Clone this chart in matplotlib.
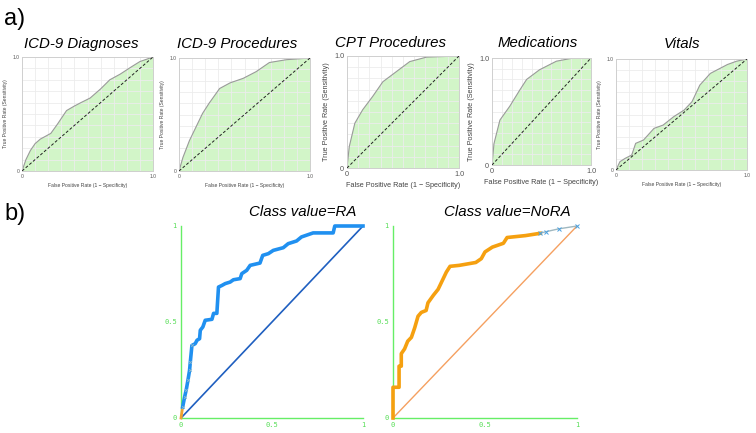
import matplotlib.pyplot as plt
import numpy as np

# ---- panel a) ROC curves (read from picture) ----
titles_a = ['ICD-9 Diagnoses', 'ICD-9 Procedures', 'CPT Procedures', 'Medications', 'Vitals']

diag_fpr = [0, 0.03, 0.064, 0.10, 0.14, 0.22, 0.27, 0.34, 0.40, 0.45, 0.52, 0.60, 0.67, 0.75, 0.83, 0.90, 1.0]
diag_tpr = [0, 0.10, 0.18, 0.24, 0.28, 0.33, 0.41, 0.53, 0.57, 0.60, 0.64, 0.72, 0.80, 0.85, 0.91, 0.96, 1.0]

proc_fpr = [0, 0.03, 0.08, 0.13, 0.18, 0.23, 0.31, 0.39, 0.49, 0.59, 0.69, 0.82, 1.0]
proc_tpr = [0, 0.12, 0.27, 0.39, 0.51, 0.60, 0.73, 0.78, 0.82, 0.88, 0.96, 0.985, 1.0]

cpt_fpr = [0, 0.02, 0.07, 0.14, 0.23, 0.32, 0.44, 0.56, 0.71, 1.0]
cpt_tpr = [0, 0.19, 0.40, 0.52, 0.64, 0.77, 0.86, 0.95, 0.99, 1.0]

med_fpr = [0, 0.02, 0.08, 0.18, 0.28, 0.35, 0.48, 0.65, 0.82, 1.0]
med_tpr = [0, 0.20, 0.42, 0.55, 0.70, 0.80, 0.89, 0.97, 1.0, 1.0]

vit_fpr = [0, 0.03, 0.07, 0.12, 0.15, 0.21, 0.29, 0.36, 0.44, 0.52, 0.58, 0.64, 0.72, 0.85, 0.92, 1.0]
vit_tpr = [0, 0.075, 0.105, 0.135, 0.24, 0.27, 0.375, 0.405, 0.48, 0.54, 0.615, 0.765, 0.87, 0.95, 0.98, 1.0]

curves_a = [(diag_fpr, diag_tpr), (proc_fpr, proc_tpr), (cpt_fpr, cpt_tpr),
            (med_fpr, med_tpr), (vit_fpr, vit_tpr)]

# ---- panel b) Weka threshold curves ----
ra_fpr = [0, 0.009, 0.02, 0.029, 0.038, 0.047, 0.051, 0.06, 0.078, 0.088, 0.102, 0.106, 0.12,
          0.133, 0.17, 0.179, 0.197, 0.206, 0.224, 0.243, 0.27, 0.288, 0.325, 0.334, 0.361, 0.38,
          0.434, 0.449, 0.48, 0.507, 0.562, 0.589, 0.635, 0.662, 0.726, 0.836, 0.845, 1.0]
ra_tpr = [0, 0.057, 0.11, 0.148, 0.196, 0.248, 0.29, 0.378, 0.387, 0.405, 0.413, 0.457, 0.474,
          0.509, 0.514, 0.545, 0.545, 0.682, 0.69, 0.70, 0.708, 0.72, 0.726, 0.752, 0.769, 0.795,
          0.807, 0.847, 0.856, 0.873, 0.887, 0.908, 0.922, 0.943, 0.964, 0.964, 1.0, 1.0]

nora_fpr = [0, 0, 0.033, 0.033, 0.045, 0.045, 0.063, 0.08, 0.10, 0.118, 0.136, 0.154, 0.18, 0.19,
            0.22, 0.245, 0.27, 0.29, 0.31, 0.36, 0.45, 0.48, 0.50, 0.54, 0.60, 0.62, 0.72, 0.80,
            0.83, 0.90, 1.0]
nora_tpr = [0, 0.16, 0.16, 0.27, 0.27, 0.335, 0.36, 0.40, 0.42, 0.47, 0.53, 0.55, 0.56, 0.60,
            0.64, 0.67, 0.72, 0.76, 0.79, 0.795, 0.81, 0.83, 0.865, 0.89, 0.91, 0.94, 0.95, 0.962,
            0.97, 0.985, 1.0]

W, H = 756, 433
fig = plt.figure(figsize=(W / 100, H / 100), dpi=100)
plt.rcParams['font.family'] = ['Liberation Sans', 'DejaVu Sans']


def box(l, r, t, b):
    return [l / W, 1 - b / H, (r - l) / W, (b - t) / H]


# pixel boxes, title centres and label sizes for the five top panels
boxes_a = [(22, 153, 57, 171), (179, 310, 58, 171), (347, 459, 56, 168),
           (492, 591, 58, 165), (616, 747, 59, 170)]
title_pos = [(81, 44), (237, 44), (390, 43), (538, 43), (682, 44)]
lab_size = [3.6, 3.6, 5.2, 5.2, 3.6]

for i, (fpr, tpr) in enumerate(curves_a):
    ax = fig.add_axes(box(*boxes_a[i]))
    ax.fill_between(fpr, tpr, 0, color='#d2f5c8', zorder=1)
    ax.plot(fpr, tpr, color='#9a9a9a', lw=0.8, zorder=2)
    ax.plot([0, 1], [0, 1], color='#222222', lw=0.7, ls=(0, (3, 2)), zorder=3)
    ax.set_xlim(0, 1)
    ax.set_ylim(0, 1)
    ax.set_xticks(np.arange(0, 1.01, 0.1), minor=True)
    ax.set_yticks(np.arange(0, 1.01, 0.1), minor=True)
    ax.set_xticks([0, 1])
    ax.set_yticks([0, 1])
    ax.set_xticklabels(['0', '1.0'])
    ax.set_yticklabels(['0', '1.0'])
    ax.grid(which='minor', color='#ececec', lw=0.6, zorder=0)
    ax.tick_params(which='both', length=0, labelsize=lab_size[i], colors='#555555', pad=2)
    for s in ax.spines.values():
        s.set_color('#cfcfcf')
        s.set_linewidth(0.7)
    ax.set_xlabel('False Positive Rate (1 − Specificity)', fontsize=lab_size[i], color='#444444',
                  labelpad=3)
    ax.set_ylabel('True Positive Rate (Sensitivity)', fontsize=lab_size[i], color='#444444',
                  labelpad=3)
    tx, ty = title_pos[i]
    fig.text(tx / W, 1 - ty / H, titles_a[i], fontsize=10.8, style='italic',
             ha='center', va='center')

fig.text(4 / W, 1 - 19 / H, 'a)', fontsize=17, ha='left', va='center')
fig.text(4 / W, 1 - 214 / H, 'b)', fontsize=17, ha='left', va='center')

# ---- bottom panels ----
green = '#66ee66'
boxes_b = [(181, 363, 226, 418), (393, 577, 226, 418)]
titles_b = ['Class value=RA', 'Class value=NoRA']
title_b_pos = [(303, 212), (507, 212)]

for j in range(2):
    ax = fig.add_axes(box(*boxes_b[j]))
    ax.set_xlim(0, 1)
    ax.set_ylim(0, 1)
    ax.set_xticks([0, 0.5, 1])
    ax.set_yticks([0, 0.5, 1])
    ax.set_xticklabels(['0', '0.5', '1'], family='DejaVu Sans Mono')
    ax.set_yticklabels(['0', '0.5', '1'], family='DejaVu Sans Mono')
    ax.tick_params(length=0, labelsize=5, colors='#55dd55', pad=3)
    ax.spines['top'].set_visible(False)
    ax.spines['right'].set_visible(False)
    ax.spines['left'].set_color(green)
    ax.spines['bottom'].set_color(green)
    ax.spines['left'].set_linewidth(1.0)
    ax.spines['bottom'].set_linewidth(1.0)
    tx, ty = title_b_pos[j]
    fig.text(tx / W, 1 - ty / H, titles_b[j], fontsize=10.8, style='italic',
             ha='center', va='center')

    if j == 0:
        ax.plot([0, 1], [0, 1], color='#1f5fc0', lw=1.2, zorder=2)
        ax.plot(ra_fpr[:2], ra_tpr[:2], color='#f0a030', lw=2, zorder=3, clip_on=False)
        ax.plot(ra_fpr[1:], ra_tpr[1:], color='#2090f0', lw=2.6, zorder=3, clip_on=False)
        ax.plot(ra_fpr[1:8], ra_tpr[1:8], ls='none', marker='x', ms=2, mew=0.6,
                color='#8ab8d0', zorder=4)
    else:
        ax.plot([0, 1], [0, 1], color='#f5a060', lw=1.0, zorder=2)
        ax.plot(nora_fpr[:28], nora_tpr[:28], color='#f5a010', lw=2.6, zorder=3, clip_on=False)
        ax.plot(nora_fpr[27:], nora_tpr[27:], color='#a0b8c0', lw=1.0, zorder=3,
                marker='x', ms=2.5, mew=0.7, mec='#4aa0e0', clip_on=False)

fig.savefig('out.png', dpi=100)
